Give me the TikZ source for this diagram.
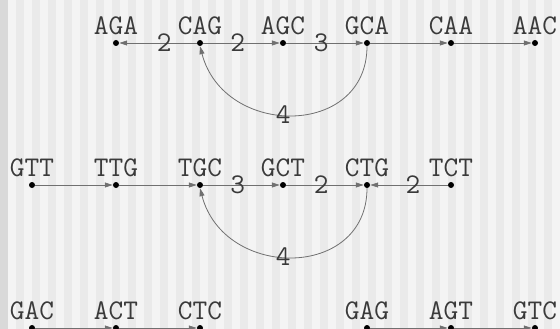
\documentclass[tikz,border=0pt]{standalone}
\usetikzlibrary{arrows.meta}
\definecolor{bgA}{HTML}{F4F4F4}
\definecolor{bgB}{HTML}{EAEAEA}
\definecolor{bgEdge}{HTML}{D9D9D9}
\definecolor{txt}{HTML}{3A3A3A}
\definecolor{edgec}{HTML}{707070}
\tikzset{
  dot/.style={circle,fill=black,inner sep=0pt,minimum size=6pt},
  vlab/.style={font=\ttfamily\fontsize{28.5}{28.5}\selectfont,text=txt,inner sep=0pt},
  wt/.style={font=\ttfamily\fontsize{28.5}{28.5}\selectfont,text=txt,inner sep=0pt},
  arc/.style={draw=edgec,line width=0.8pt,-{Triangle[length=8pt,width=5pt]}},
}
\begin{document}
\begin{tikzpicture}[x=1pt,y=-1pt]
\useasboundingbox (0,0) rectangle (560,329);
\fill[bgA] (0,0) rectangle (560,329);
\foreach \i in {0,...,34} {\fill[bgB] ({16+16*\i},0) rectangle ({24+16*\i},329);}
\fill[bgEdge] (0,0) rectangle (8,329);
% row 1
\foreach \n/\x in {AGA/116,CAG/200,AGC/283,GCA/367,CAA/451,AAC/535} {
  \node[dot] (r1\n) at (\x,43) {};
  \node[vlab] (t1\n) at (\x,26) {\n};
}
% row 2
\foreach \n/\x in {GTT/32,TTG/116,TGC/200,GCT/283,CTG/367,TCT/451} {
  \node[dot] (r2\n) at (\x,185) {};
  \node[vlab] (t2\n) at (\x,168) {\n};
}
% row 3
\foreach \n/\x in {GAC/32,ACT/116,CTC/200,GAG/367,AGT/451,GTC/535} {
  \node[dot] (r3\n) at (\x,328) {};
  \node[vlab] (t3\n) at (\x,311) {\n};
}
% row 1 edges
\draw[arc] (r1CAG) -- node[wt,pos=0.42] {2} (r1AGA);
\draw[arc] (r1CAG) -- node[wt,pos=0.45] {2} (r1AGC);
\draw[arc] (r1AGC) -- node[wt,pos=0.45] {3} (r1GCA);
\draw[arc] (r1GCA) -- (r1CAA);
\draw[arc] (r1CAA) -- (r1AAC);
\draw[arc] (r1GCA.south) .. controls (367,138) and (224,138) .. node[wt,pos=0.54] {4} (r1CAG.south);
% row 2 edges
\draw[arc] (r2GTT) -- (r2TTG);
\draw[arc] (r2TTG) -- (r2TGC);
\draw[arc] (r2TGC) -- node[wt,pos=0.45] {3} (r2GCT);
\draw[arc] (r2GCT) -- node[wt,pos=0.45] {2} (r2CTG);
\draw[arc] (r2TCT) -- node[wt,pos=0.45] {2} (r2CTG);
\draw[arc] (r2CTG.south) .. controls (367,280) and (224,280) .. node[wt,pos=0.54] {4} (r2TGC.south);
% row 3 edges
\draw[arc] (r3GAC) -- (r3ACT);
\draw[arc] (r3ACT) -- (r3CTC);
\draw[arc] (r3GAG) -- (r3AGT);
\draw[arc] (r3AGT) -- (r3GTC);
\end{tikzpicture}
\end{document}
